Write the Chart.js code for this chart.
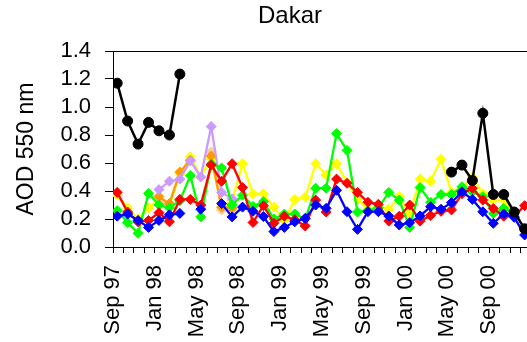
<!DOCTYPE html>
<html>
<head>
<meta charset="utf-8">
<script src="https://cdn.jsdelivr.net/npm/chart.js@4.4.0/dist/chart.umd.min.js"></script>
<style>
  html, body { margin: 0; padding: 0; background: #fff; overflow: hidden; }
</style>
</head>
<body>
<canvas id="aod" width="580" height="342"></canvas>
<script>
  // month 0 = Sep 97, one value per month, null = no data
  const tickLabels = ['Sep 97', 'Jan 98', 'May 98', 'Sep 98', 'Jan 99', 'May 99', 'Sep 99', 'Jan 00', 'May 00', 'Sep 00'];
  const monthsPerLabel = 4;
  const sampleOffset = 0.4; // samples sit ~12 days into the month
  const xMax = 44.7;

  const blackVals = [1.17, 0.90, 0.735, 0.89, 0.83, 0.80, 1.235, null, null, null,
    null, null, null, null, null, null, null, null, null, null,
    null, null, null, null, null, null, null, null, null, null,
    null, null, 0.535, 0.585, 0.475, 0.955, 0.375, 0.375, 0.25, 0.13];
  const blueVals = [0.22, 0.235, 0.19, 0.14, 0.19, 0.23, 0.24, null, 0.27, null,
    0.31, 0.215, 0.285, 0.255, 0.217, 0.11, 0.14, 0.18, 0.205, 0.30,
    0.276, 0.405, 0.252, 0.126, 0.252, 0.252, 0.221, 0.157, 0.174, 0.222,
    0.288, 0.27, 0.317, 0.395, 0.34, 0.252, 0.169, 0.236, 0.212, 0.086];
  const redVals = [0.39, 0.25, 0.18, 0.19, 0.245, 0.18, 0.34, 0.34, 0.30, 0.585,
    0.47, 0.595, 0.425, 0.175, 0.295, 0.17, 0.22, 0.195, 0.15, 0.335,
    0.25, 0.485, 0.455, 0.39, 0.32, 0.305, 0.185, 0.22, 0.30, 0.185,
    0.225, 0.255, 0.265, 0.38, 0.42, 0.335, 0.275, 0.22, 0.22, 0.295];
  const greenVals = [0.26, 0.175, 0.098, 0.383, 0.30, 0.28, 0.33, 0.51, 0.215, 0.595,
    0.565, 0.30, 0.37, 0.29, 0.325, 0.20, 0.235, 0.236, 0.20, 0.42,
    0.42, 0.81, 0.69, 0.25, 0.26, 0.28, 0.39, 0.335, 0.14, 0.425,
    0.32, 0.375, 0.375, 0.43, 0.395, 0.36, 0.24, 0.276, 0.24, null];
  const lavenderVals = [null, null, null, null, 0.41, 0.47, 0.485, 0.615, 0.50, 0.86,
    0.39, 0.345];
  const orangeVals = [null, null, null, null, 0.36, 0.31, 0.535, 0.62, null, 0.65,
    0.285, 0.28];
  const peachVals = [null, null, null, null, 0.335, 0.29, null, null, null, 0.68,
    0.265, 0.27];
  const yellowVals = [0.37, 0.28, 0.20, 0.28, 0.34, 0.30, 0.52, 0.645, 0.50, 0.63,
    0.28, 0.33, 0.595, 0.38, 0.38, 0.285, 0.19, 0.34, 0.355, 0.595,
    0.515, 0.595, 0.46, 0.34, 0.27, 0.29, 0.27, 0.36, 0.24, 0.485,
    0.47, 0.627, 0.39, 0.42, 0.50, 0.38, 0.336, 0.336, 0.25, null];

  Chart.defaults.font.family = '"Liberation Sans", Arial, sans-serif';
  Chart.defaults.color = '#000';

  const series = (label, values, color, shape, width) => ({
    label: label,
    data: values.map((v, i) => ({ x: i + sampleOffset, y: v })),
    borderColor: color,
    backgroundColor: color,
    pointBackgroundColor: color,
    pointBorderColor: color,
    pointStyle: shape,
    pointRadius: 5,
    pointBorderWidth: 1,
    borderWidth: width,
    spanGaps: false,
    tension: 0
  });

  // first dataset is drawn on top
  const datasets = [
    series('black', blackVals, '#000000', 'circle', 2.5),
    series('blue', blueVals, '#0000ff', 'rectRot', 2.3),
    series('red', redVals, '#ff0000', 'rectRot', 2.3),
    series('green', greenVals, '#00ff00', 'rectRot', 2.3),
    series('lavender', lavenderVals, '#cc99ff', 'rectRot', 2.3),
    series('orange', orangeVals, '#ff9900', 'rectRot', 2.3),
    series('peach', peachVals, '#ffcc99', 'rectRot', 2.3),
    series('yellow', yellowVals, '#ffff00', 'rectRot', 2.3)
  ];

  // plot frame top edge
  const topFrame = {
    id: 'topFrame',
    beforeDatasetsDraw(chart) {
      const { ctx, chartArea } = chart;
      ctx.save();
      ctx.strokeStyle = '#000';
      ctx.lineWidth = 1;
      ctx.beginPath();
      ctx.moveTo(chartArea.left, Math.round(chartArea.top) + 0.5);
      ctx.lineTo(chartArea.right, Math.round(chartArea.top) + 0.5);
      ctx.stroke();
      ctx.restore();
    }
  };

  new Chart(document.getElementById('aod').getContext('2d'), {
    type: 'line',
    data: { datasets: datasets },
    plugins: [topFrame],
    options: {
      responsive: false,
      animation: false,
      layout: { padding: 0, autoPadding: false },
      plugins: {
        legend: { display: false },
        tooltip: { enabled: false },
        title: {
          display: true, text: 'Dakar', color: '#000',
          font: { size: 24, weight: 'normal' },
          padding: { top: 2, bottom: 20.2 }
        }
      },
      scales: {
        x: {
          type: 'linear', min: 0, max: xMax,
          afterBuildTicks: s => {
            s.ticks = [];
            for (let m = 0; m <= Math.floor(xMax); m++) s.ticks.push({ value: m });
          },
          afterFit: s => { s.height = 95; s.paddingLeft = 0; s.paddingRight = 0; },
          grid: { drawOnChartArea: false, drawTicks: true, tickLength: 6, color: '#000' },
          border: { display: true, color: '#000', width: 1 },
          ticks: {
            autoSkip: false, maxRotation: 90, minRotation: 90, padding: 12,
            color: '#000', font: { size: 22 },
            callback: v => v % monthsPerLabel === 0 ? (tickLabels[v / monthsPerLabel] ?? '') : ''
          }
        },
        y: {
          min: 0, max: 1.4,
          afterFit: s => { s.width = 113; },
          grid: { drawOnChartArea: false, drawTicks: true, tickLength: 8, color: '#000' },
          border: { display: true, color: '#000', width: 1 },
          ticks: {
            autoSkip: false, stepSize: 0.2, padding: 14, color: '#000', font: { size: 22 },
            callback: v => v.toFixed(1)
          },
          title: { display: true, text: 'AOD 550 nm', color: '#000', font: { size: 23 }, padding: { top: 13, bottom: 0 } }
        }
      }
    }
  });
</script>
</body>
</html>
